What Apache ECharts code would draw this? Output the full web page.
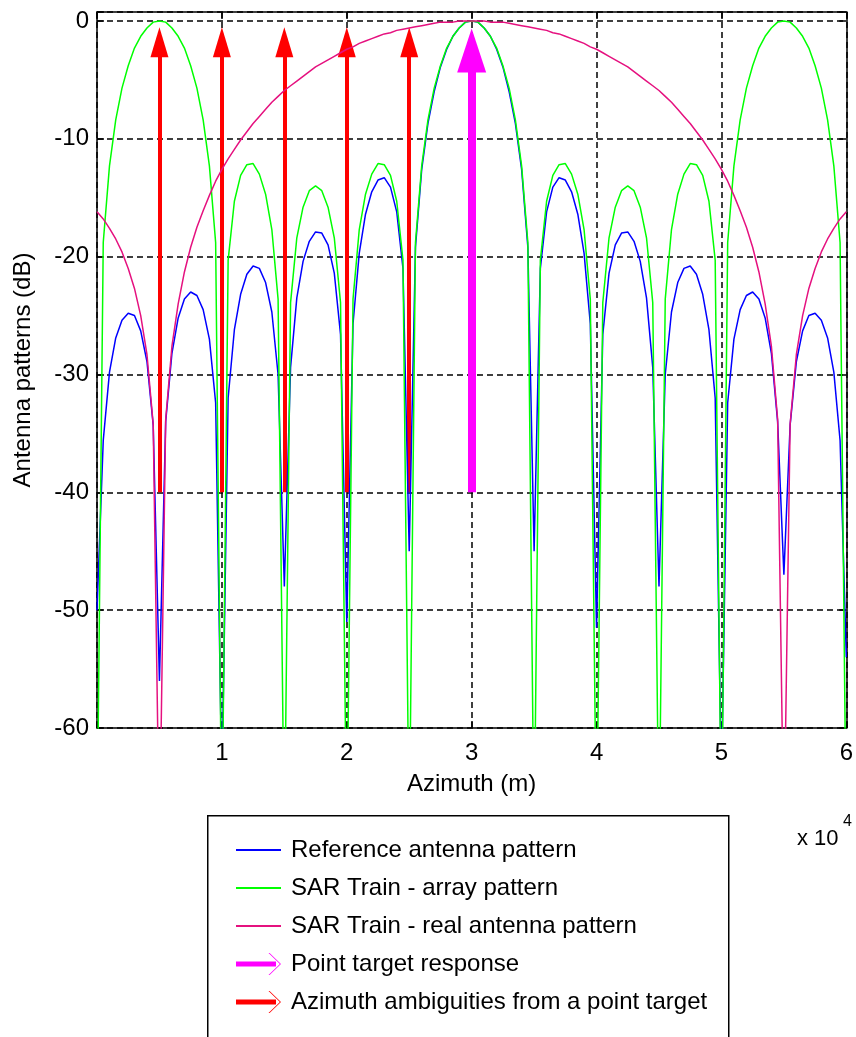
<!DOCTYPE html>
<html>
<head>
<meta charset="utf-8">
<script src="https://cdn.jsdelivr.net/npm/echarts@6/dist/echarts.min.js"></script>
<style>
    html, body { margin: 0; padding: 0; background: #fff; }
    #chart { width: 856px; height: 1037px; }
</style>
</head>
<body>
<div id="chart"></div>
<script>
// azimuth samples (m)
const azimuth = [
    0, 500, 1000, 1500, 2000, 2500, 3000, 3500, 4000, 4500,
    5000, 5500, 6000, 6500, 7000, 7500, 8000, 8500, 9000, 9500,
    10000, 10500, 11000, 11500, 12000, 12500, 13000, 13500, 14000, 14500,
    15000, 15500, 16000, 16500, 17000, 17500, 18000, 18500, 19000, 19500,
    20000, 20500, 21000, 21500, 22000, 22500, 23000, 23500, 24000, 24500,
    25000, 25500, 26000, 26500, 27000, 27500, 28000, 28500, 29000, 29500,
    30000, 30500, 31000, 31500, 32000, 32500, 33000, 33500, 34000, 34500,
    35000, 35500, 36000, 36500, 37000, 37500, 38000, 38500, 39000, 39500,
    40000, 40500, 41000, 41500, 42000, 42500, 43000, 43500, 44000, 44500,
    45000, 45500, 46000, 46500, 47000, 47500, 48000, 48500, 49000, 49500,
    50000, 50500, 51000, 51500, 52000, 52500, 53000, 53500, 54000, 54500,
    55000, 55500, 56000, 56500, 57000, 57500, 58000, 58500, 59000, 59500,
    60000
];

// dB values
const referencePattern = [
    -50, -35.6, -29.8, -26.9, -25.4, -24.8, -25.0, -26.3, -28.9, -34.3,
    -56, -34.0, -28.2, -25.2, -23.6, -23.0, -23.3, -24.5, -27.0, -32.4,
    -65, -32.0, -26.2, -23.2, -21.5, -20.8, -21.0, -22.2, -24.7, -30.0,
    -48, -29.4, -23.5, -20.4, -18.7, -17.9, -18.0, -19.0, -21.4, -26.6,
    -51, -25.7, -19.7, -16.4, -14.5, -13.5, -13.3, -14.1, -16.2, -21.0,
    -45, -19.2, -12.6, -8.7, -6.0, -3.9, -2.4, -1.3, -0.6, -0.1,
    0, -0.1, -0.6, -1.3, -2.4, -3.9, -6.0, -8.7, -12.6, -19.2,
    -45, -21.0, -16.2, -14.1, -13.3, -13.5, -14.5, -16.4, -19.7, -25.7,
    -51.5, -26.6, -21.4, -19.0, -18.0, -17.9, -18.7, -20.4, -23.5, -29.4,
    -48, -30.0, -24.7, -22.2, -21.0, -20.8, -21.5, -23.2, -26.2, -32.0,
    -65, -32.4, -27.0, -24.5, -23.3, -23.0, -23.6, -25.2, -28.2, -34.0,
    -47, -34.3, -28.9, -26.3, -25.0, -24.8, -25.4, -26.9, -29.8, -35.6,
    -54
];

const arrayPattern = [
    -70, -18.8, -12.3, -8.4, -5.7, -3.8, -2.3, -1.3, -0.6, -0.1,
    0, -0.1, -0.6, -1.3, -2.3, -3.8, -5.7, -8.4, -12.3, -18.8,
    -70, -20.3, -15.3, -13.1, -12.2, -12.1, -13.0, -14.7, -17.7, -23.6,
    -70, -23.9, -18.4, -15.8, -14.4, -14.0, -14.4, -15.8, -18.4, -23.9,
    -70, -23.6, -17.7, -14.7, -13.0, -12.1, -12.2, -13.1, -15.3, -20.3,
    -70, -18.8, -12.3, -8.4, -5.7, -3.8, -2.3, -1.3, -0.6, -0.1,
    0, -0.1, -0.6, -1.3, -2.3, -3.8, -5.7, -8.4, -12.3, -18.8,
    -70, -20.3, -15.3, -13.1, -12.2, -12.1, -13.0, -14.7, -17.7, -23.6,
    -70, -23.9, -18.4, -15.8, -14.4, -14.0, -14.4, -15.8, -18.4, -23.9,
    -70, -23.6, -17.7, -14.7, -13.0, -12.1, -12.2, -13.1, -15.3, -20.3,
    -70, -18.8, -12.3, -8.4, -5.7, -3.8, -2.3, -1.3, -0.6, -0.1,
    0, -0.1, -0.6, -1.3, -2.3, -3.8, -5.7, -8.4, -12.3, -18.8,
    -70
];

const realPattern = [
    -16.2, -16.8, -17.6, -18.5, -19.6, -21.0, -22.7, -25.0, -28.3, -34.2,
    -70, -33.8, -27.6, -24.0, -21.3, -19.2, -17.5, -16.1, -14.8, -13.6,
    -12.6, -11.7, -10.9, -10.1, -9.4, -8.7, -8.1, -7.5, -6.9, -6.4,
    -5.9, -5.5, -5.1, -4.7, -4.3, -3.9, -3.6, -3.3, -3.0, -2.7,
    -2.4, -2.2, -1.9, -1.7, -1.5, -1.3, -1.1, -1.0, -0.8, -0.7,
    -0.6, -0.5, -0.4, -0.3, -0.2, -0.1, -0.1, -0.1, 0, 0,
    0, 0, 0, -0.1, -0.1, -0.1, -0.2, -0.3, -0.4, -0.5,
    -0.6, -0.7, -0.8, -1.0, -1.1, -1.3, -1.5, -1.7, -1.9, -2.2,
    -2.4, -2.7, -3.0, -3.3, -3.6, -3.9, -4.3, -4.7, -5.1, -5.5,
    -5.9, -6.4, -6.9, -7.5, -8.1, -8.7, -9.4, -10.1, -10.9, -11.7,
    -12.6, -13.6, -14.8, -16.1, -17.5, -19.2, -21.3, -24.0, -27.6, -33.8,
    -70, -34.2, -28.3, -25.0, -22.7, -21.0, -19.6, -18.5, -17.6, -16.8,
    -16.2
];

// arrows: foot at -40 dB, head centre just under 0 dB
const ambiguityAz = [5000, 10000, 15000, 20000, 25000];
const targetAz = [30000];
const arrowFootDb = -40;
const ambiguityHeadDb = -1.8;
const targetHeadDb = -2.5;

const font = 'Liberation Sans, Arial, Helvetica, sans-serif';
// legend icons, drawn in a 45 x 22 box
const lineIcon = 'path://M0,0L45,0L45,2L0,2Z';
const arrowIcon = 'path://M0,8.5L40,8.5L40,13.5L0,13.5ZM32.5,0L33.6,0L45,11L33.6,22L32.5,22L43.9,11Z';

function toPairs (ys) {
    return azimuth.map((x, i) => [x, ys[i]]);
}

function toArrows (xs, headDb) {
    return xs.map(x => ({ coords: [[x, arrowFootDb], [x, headDb]] }));
}

const gridLine = {
    show: true,
    lineStyle: { color: '#000', type: [6, 4], width: 1.5 }
};
const frameLine = { show: true, onZero: false, lineStyle: { color: '#000', width: 1.5 } };
const frameTick = { show: true, inside: true, length: 7, lineStyle: { color: '#000', width: 1.5 } };

var myChart = echarts.init(document.getElementById('chart'), null, { renderer: 'canvas' });

let option = {
    animation: false,
    backgroundColor: '#fff',
    textStyle: { fontFamily: font, color: '#000' },
    grid: {
        left: 97,
        right: 4,
        top: 12,
        bottom: 309
    },
    xAxis: [
        {
            type: 'value',
            min: 0,
            max: 60000,
            interval: 10000,
            axisLine: frameLine,
            axisTick: frameTick,
            splitLine: gridLine,
            axisLabel: {
                color: '#000',
                fontSize: 24,
                fontFamily: font,
                margin: 13,
                formatter: v => (v === 0 ? '' : String(v / 10000))
            },
            name: 'Azimuth (m)',
            nameLocation: 'middle',
            nameGap: 44,
            nameTextStyle: { color: '#000', fontSize: 24, fontFamily: font }
        },
        {
            type: 'value',
            position: 'top',
            min: 0,
            max: 60000,
            interval: 10000,
            axisLine: frameLine,
            axisTick: frameTick,
            splitLine: { show: false },
            axisLabel: { show: false }
        }
    ],
    yAxis: [
        {
            type: 'value',
            min: -60,
            max: 0.76,
            interval: 10,
            axisLine: frameLine,
            axisTick: frameTick,
            splitLine: gridLine,
            axisLabel: {
                color: '#000',
                fontSize: 24,
                fontFamily: font,
                margin: 8,
                formatter: v => (v % 10 === 0 ? String(v) : '')
            },
            name: 'Antenna patterns (dB)',
            nameLocation: 'middle',
            nameRotate: 90,
            nameGap: 62,
            nameTextStyle: { color: '#000', fontSize: 24, fontFamily: font }
        },
        {
            type: 'value',
            position: 'right',
            min: -60,
            max: 0.76,
            interval: 10,
            axisLine: frameLine,
            axisTick: frameTick,
            splitLine: { show: false },
            axisLabel: { show: false }
        }
    ],
    legend: {
        orient: 'vertical',
        left: 231,
        top: 833,
        itemWidth: 45,
        itemHeight: 22,
        itemGap: 14,
        selectedMode: false,
        textStyle: { color: '#000', fontSize: 24, fontFamily: font, padding: [0, 0, 0, 5] },
        data: [
            { name: 'Reference antenna pattern', icon: lineIcon, itemStyle: { color: '#0000ff', borderWidth: 0 } },
            { name: 'SAR Train - array pattern', icon: lineIcon, itemStyle: { color: '#00ff00', borderWidth: 0 } },
            { name: 'SAR Train - real antenna pattern', icon: lineIcon, itemStyle: { color: '#e5117f', borderWidth: 0 } },
            { name: 'Point target response', icon: arrowIcon, itemStyle: { color: '#ff00ff', borderWidth: 0 } },
            { name: 'Azimuth ambiguities from a point target', icon: arrowIcon, itemStyle: { color: '#ff0000', borderWidth: 0 } }
        ]
    },
    graphic: [
        {
            type: 'rect',
            left: 207,
            top: 815,
            z: -1,
            shape: { width: 521, height: 260 },
            style: { fill: '#fff', stroke: '#000', lineWidth: 1.5 }
        },
        {
            type: 'text',
            left: 797,
            top: 828,
            style: { text: 'x 10', fill: '#000', font: '22px ' + font }
        },
        {
            type: 'text',
            left: 843,
            top: 814,
            style: { text: '4', fill: '#000', font: '16px ' + font }
        }
    ],
    series: [
        {
            name: 'Reference antenna pattern',
            type: 'line',
            showSymbol: false,
            symbol: 'none',
            clip: true,
            lineStyle: { color: '#0000ff', width: 1.5 },
            itemStyle: { color: '#0000ff' },
            data: toPairs(referencePattern)
        },
        {
            name: 'SAR Train - array pattern',
            type: 'line',
            showSymbol: false,
            symbol: 'none',
            clip: true,
            lineStyle: { color: '#00ff00', width: 1.5 },
            itemStyle: { color: '#00ff00' },
            data: toPairs(arrayPattern)
        },
        {
            name: 'SAR Train - real antenna pattern',
            type: 'line',
            showSymbol: false,
            symbol: 'none',
            clip: true,
            lineStyle: { color: '#e5117f', width: 1.5 },
            itemStyle: { color: '#e5117f' },
            data: toPairs(realPattern)
        },
        {
            name: 'Point target response',
            type: 'lines',
            coordinateSystem: 'cartesian2d',
            symbol: ['none', 'triangle'],
            symbolSize: [[29, 44], [29, 44]],
            lineStyle: { color: '#ff00ff', width: 8, opacity: 1 },
            itemStyle: { color: '#ff00ff' },
            data: toArrows(targetAz, targetHeadDb)
        },
        {
            name: 'Azimuth ambiguities from a point target',
            type: 'lines',
            coordinateSystem: 'cartesian2d',
            symbol: ['none', 'triangle'],
            symbolSize: [[18, 30], [18, 30]],
            lineStyle: { color: '#ff0000', width: 4, opacity: 1 },
            itemStyle: { color: '#ff0000' },
            data: toArrows(ambiguityAz, ambiguityHeadDb)
        }
    ]
};
myChart.setOption(option);
</script>
</body>
</html>
